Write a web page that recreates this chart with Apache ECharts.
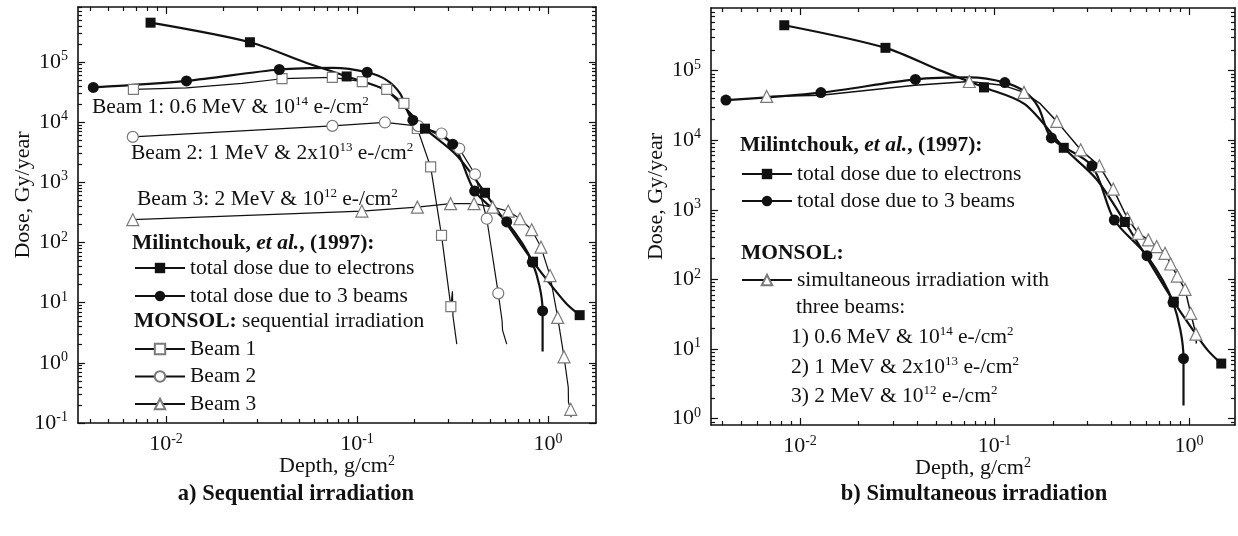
<!DOCTYPE html>
<html>
<head>
<meta charset="utf-8">
<script src="https://cdn.jsdelivr.net/npm/echarts@6/dist/echarts.min.js"></script>
<style>
  html, body { margin: 0; background: #fff; }
  #chart { width: 1238px; height: 536px; }
</style>
</head>
<body>
<div id="chart"></div>
<script>
const FONT = "'Liberation Serif', 'Times New Roman', serif";
const INK = '#111';
const EDGE = '#7a7a7a';

// Milintchouk et al. (1997) - same curves on both panels, [depth g/cm2, dose Gy/year]
const electronsMarks = [[0.0083, 4.5e5], [0.0275, 2.13e5], [0.0883, 5.75e4], [0.227, 7.8e3], [0.468, 670], [0.835, 48], [1.465, 6.2]];
const electronsLine = [[0.052, 1.02e5], [0.143, 3.3e4], [0.333, 2.8e3], [1.062, 17.8], [1.253, 9.5]];
const beamsMarks = [[0.00416, 3.78e4], [0.0128, 4.85e4], [0.0392, 7.5e4], [0.113, 6.75e4], [0.196, 1.08e4], [0.317, 4300], [0.413, 716], [0.608, 220], [0.828, 47], [0.937, 7.3]];
const beamsLine = [[0.075, 8.0e4], [0.143, 5.0e4], [0.168, 3.0e4], [0.937, 1.55]];

// MONSOL, sequential irradiation
const beam1Marks = [[0.00675, 3.5e4], [0.0405, 5.27e4], [0.0743, 5.56e4], [0.1066, 4.7e4], [0.143, 3.5e4], [0.176, 2.05e4], [0.207, 7850], [0.243, 1800], [0.277, 131], [0.31, 8.6]];
const beam1Line = [[0.0128, 3.7e4], [0.025, 4.4e4], [0.316, 15.4], [0.318, 6], [0.333, 2.05]];
const beam2Marks = [[0.0067, 5690], [0.0743, 8670], [0.14, 9890], [0.2095, 8580], [0.277, 6480], [0.343, 3640], [0.415, 1360], [0.478, 248], [0.549, 14.3]];
const beam2Line = [[0.575, 5.0], [0.578, 3.5], [0.608, 2.05]];
const beam3Marks = [[0.0067, 239], [0.106, 333], [0.207, 387], [0.309, 442], [0.41, 442], [0.513, 387], [0.619, 333], [0.713, 248], [0.822, 163], [0.919, 83.5], [1.025, 28.2], [1.124, 5.69], [1.213, 1.26], [1.315, 0.169]];
const beam3Line = [[1.277, 0.39], [1.28, 0.22], [1.32, 0.125]];

// MONSOL, simultaneous irradiation
const simulMarks = [[0.00674, 4.27e4], [0.0742, 7.0e4], [0.1418, 4.88e4], [0.209, 1.87e4], [0.2774, 7300], [0.346, 4300], [0.408, 1990], [0.482, 759], [0.548, 462], [0.618, 370], [0.682, 297], [0.753, 238], [0.805, 167], [0.871, 112], [0.954, 72.3], [1.02, 32.7], [1.086, 16.4]];
const simulLine = [[0.0128, 4.45e4], [0.039, 6.2e4], [0.11, 6.2e4], [0.171, 3.4e4], [1.09, 12]];

// axis ticks
const xDecades = [0.01, 0.1, 1];
const yDecadesA = [0.1, 1, 10, 100, 1e3, 1e4, 1e5];
const yDecadesB = [1, 10, 100, 1e3, 1e4, 1e5];
const minorSteps = [2, 3, 4, 5, 6, 7, 8, 9];

function minors(lo, hi) {
  const out = [];
  for (let e = lo; e <= hi; e++) minorSteps.forEach(m => out.push(m * Math.pow(10, e)));
  return out;
}

function curve(marks, extra) {
  const pts = marks.map(p => ({ value: p }))
    .concat(extra.map(p => ({ value: p, symbol: 'none' })));
  pts.sort((a, b) => a.value[0] - b.value[0] || b.value[1] - a.value[1]);
  return pts;
}

const powRich = {
  b: { fontFamily: FONT, fontSize: 22, color: INK },
  s: { fontFamily: FONT, fontSize: 14, color: INK, padding: [0, 0, 11, 0] }
};
const powerLabel = v => '{b|10}{s|' + Math.round(Math.log10(v)) + '}';

function xAxes(gridIndex, min, max) {
  const base = {
    type: 'log', gridIndex, min, max,
    splitLine: { show: false }, minorTick: { show: false },
    axisLabel: { show: false }, axisLine: { show: false, onZero: false }
  };
  const line = { show: true, onZero: false, lineStyle: { color: INK, width: 1.6 } };
  const major = { inside: true, length: 7, customValues: xDecades, lineStyle: { color: INK, width: 1.2 } };
  const minor = { inside: true, length: 4, customValues: minors(-3, 0), lineStyle: { color: INK, width: 1.2 } };
  return [
    Object.assign({}, base, {
      position: 'bottom', axisLine: line, axisTick: major,
      axisLabel: { show: true, customValues: xDecades, formatter: powerLabel, margin: 9, rich: powRich },
      name: '{b|Depth, g/cm}{s|2}', nameLocation: 'middle', nameGap: 31, nameMoveOverlap: false,
      nameTextStyle: { rich: powRich }
    }),
    Object.assign({}, base, { position: 'bottom', axisTick: minor }),
    Object.assign({}, base, { position: 'top', axisLine: line, axisTick: major }),
    Object.assign({}, base, { position: 'top', axisTick: minor })
  ];
}

function yAxes(gridIndex, min, max, decades) {
  const base = {
    type: 'log', gridIndex, min, max,
    splitLine: { show: false }, minorTick: { show: false },
    axisLabel: { show: false }, axisLine: { show: false, onZero: false }
  };
  const line = { show: true, onZero: false, lineStyle: { color: INK, width: 1.6 } };
  const major = { inside: true, length: 7, customValues: decades, lineStyle: { color: INK, width: 1.2 } };
  const minor = { inside: true, length: 4, customValues: minors(-1, 5), lineStyle: { color: INK, width: 1.2 } };
  return [
    Object.assign({}, base, {
      position: 'left', axisLine: line, axisTick: major,
      axisLabel: { show: true, customValues: decades, formatter: powerLabel, margin: 10, rich: powRich },
      name: 'Dose, Gy/year', nameLocation: 'middle', nameGap: 44, nameRotate: 90, nameMoveOverlap: false,
      nameTextStyle: { fontFamily: FONT, fontSize: 22, color: INK, padding: [0, 0, 0, 40] }
    }),
    Object.assign({}, base, { position: 'left', axisTick: minor }),
    Object.assign({}, base, { position: 'right', axisLine: line, axisTick: major }),
    Object.assign({}, base, { position: 'right', axisTick: minor })
  ];
}

function series(name, data, panel, symbol, size, filled, width) {
  return {
    name, type: 'line', data,
    xAxisIndex: panel * 4, yAxisIndex: panel * 4,
    symbol, symbolSize: size, showSymbol: true,
    smooth: width > 2 ? 0.3 : false,
    lineStyle: { color: INK, width },
    itemStyle: filled ? { color: INK, borderColor: INK, borderWidth: 0 } : { color: '#fff', borderColor: EDGE, borderWidth: 1.2 },
    emphasis: { disabled: true }, animation: false
  };
}

const NAME_E = 'total dose due to electrons';
const NAME_B = 'total dose due to 3 beams';

const textBase = { fontFamily: FONT, fontSize: 21.5, fill: INK, verticalAlign: 'middle' };
const richText = {
  b: { fontFamily: FONT, fontSize: 21.5, fontWeight: 'bold', fill: INK },
  bi: { fontFamily: FONT, fontSize: 21.5, fontWeight: 'bold', fontStyle: 'italic', fill: INK },
  s: { fontFamily: FONT, fontSize: 13, fill: INK, padding: [0, 0, 10, 0] }
};
function note(x, y, text) {
  return { type: 'text', x, y, style: Object.assign({ text, rich: richText }, textBase) };
}

const legendText = { fontFamily: FONT, fontSize: 21.5, color: INK };
function legendBox(names, left, top, gap) {
  return {
    data: names, left, top, orient: 'vertical', padding: 0,
    itemWidth: 50, itemHeight: 13, itemGap: gap,
    textStyle: legendText, selectedMode: false
  };
}

const chart = echarts.init(document.getElementById('chart'));
chart.setOption({
  animation: false,
  grid: [
    { left: 78, top: 7, width: 518, height: 416 },
    { left: 711, top: 8, width: 524, height: 417 }
  ],
  xAxis: xAxes(0, 0.003461, 1.7838).concat(xAxes(1, 0.003486, 1.724)),
  yAxis: yAxes(0, 0.1, 8.2e5, yDecadesA).concat(yAxes(1, 0.812, 7.96e5, yDecadesB)),
  title: [
    { text: 'a) Sequential irradiation', left: 291, top: 478, textAlign: 'center', textStyle: { fontFamily: FONT, fontSize: 22.5, fontWeight: 'bold', color: INK } },
    { text: 'b) Simultaneous irradiation', left: 969, top: 478, textAlign: 'center', textStyle: { fontFamily: FONT, fontSize: 22.5, fontWeight: 'bold', color: INK } }
  ],
  legend: [
    legendBox([NAME_E, NAME_B], 134, 257, 6),
    legendBox(['Beam 1', 'Beam 2', 'Beam 3'], 134, 338, 5.5),
    legendBox([NAME_E, NAME_B], 741, 163, 5),
    legendBox(['simultaneous irradiation with'], 741, 269, 5)
  ],
  graphic: [
    note(92, 107, 'Beam 1: 0.6 MeV & 10{s|14} e-/cm{s|2}'),
    note(131, 153, 'Beam 2: 1 MeV & 2x10{s|13} e-/cm{s|2}'),
    note(137, 199, 'Beam 3: 2 MeV & 10{s|12} e-/cm{s|2}'),
    note(132, 243, '{b|Milintchouk, }{bi|et al.}{b|, (1997):}'),
    note(134, 321, '{b|MONSOL:} sequential irradiation'),
    note(740, 145, '{b|Milintchouk, }{bi|et al.}{b|, (1997):}'),
    note(741, 253, '{b|MONSOL:}'),
    note(796, 307, 'three beams:'),
    note(791, 337, '1) 0.6 MeV & 10{s|14} e-/cm{s|2}'),
    note(791, 367, '2) 1 MeV & 2x10{s|13} e-/cm{s|2}'),
    note(791, 396, '3) 2 MeV & 10{s|12} e-/cm{s|2}')
  ],
  series: [
    series('Beam 1', curve(beam1Marks, beam1Line), 0, 'rect', 10, false, 1.2),
    series('Beam 2', curve(beam2Marks, beam2Line), 0, 'circle', 11, false, 1.2),
    series('Beam 3', curve(beam3Marks, beam3Line), 0, 'triangle', 12, false, 1.2),
    series(NAME_E, curve(electronsMarks, electronsLine), 0, 'rect', 10, true, 2.2),
    series(NAME_B, curve(beamsMarks, beamsLine), 0, 'circle', 11, true, 2.2),
    series('simultaneous irradiation with', curve(simulMarks, simulLine), 1, 'triangle', 12, false, 1.5),
    series(NAME_E, curve(electronsMarks, electronsLine), 1, 'rect', 10, true, 2.2),
    series(NAME_B, curve(beamsMarks, beamsLine), 1, 'circle', 11, true, 2.2)
  ]
});
</script>
</body>
</html>
